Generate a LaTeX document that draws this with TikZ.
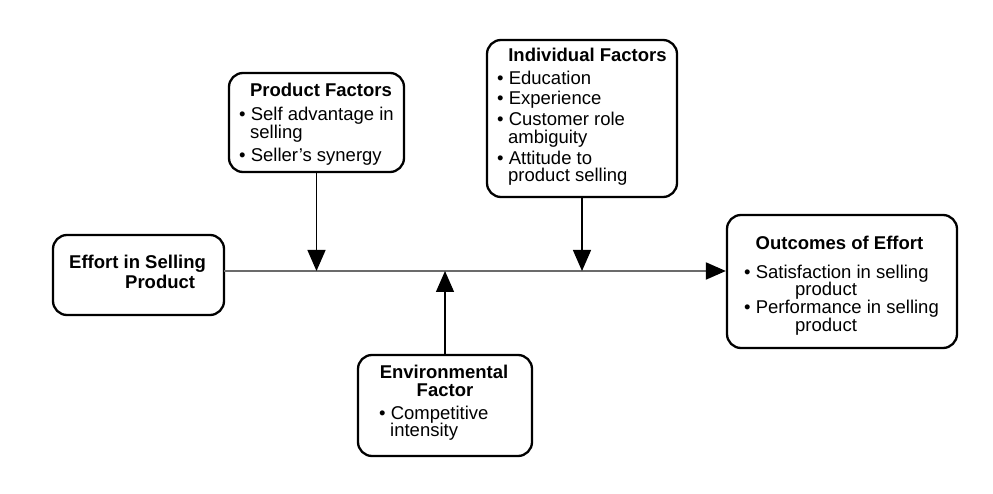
\documentclass[tikz,border=0pt]{standalone}
\usepackage{fontspec}
\setmainfont{Liberation Sans}
\usetikzlibrary{arrows.meta}
\begin{document}
\begin{tikzpicture}[x=1pt,y=-1pt,
  box/.style={draw, line width=2.3pt, rounded corners=14pt, inner sep=0pt, fill=white},
  txt/.style={font=\fontsize{18.5pt}{20pt}\selectfont, inner sep=0pt, anchor=base west},
  ttl/.style={font=\fontsize{18.5pt}{20pt}\selectfont\bfseries, inner sep=0pt, anchor=base},
  bttl/.style={font=\fontsize{18.5pt}{20pt}\selectfont\bfseries, inner sep=0pt, anchor=base west},
  mainline/.style={draw=black!58, line width=2pt, -{Triangle[length=20pt,width=17pt,color=black]}},
  conn/.style={draw=black, line width=1.3pt, -{Triangle[length=21pt,width=18pt]}}
]
\useasboundingbox (0,0) rectangle (993,494);
\fill[white] (0,0) rectangle (993,494);

% boxes
\node[box, minimum width=171pt, minimum height=80pt] (effort) at (138.5,275) {};
\node[box, minimum width=175pt, minimum height=99pt] (prod) at (316.5,122.5) {};
\node[box, minimum width=190pt, minimum height=157pt] (indiv) at (582,118.5) {};
\node[box, minimum width=230pt, minimum height=133pt] (outc) at (842,281.5) {};
\node[box, minimum width=174pt, minimum height=101pt] (env) at (445,405.5) {};

% connectors
\coordinate (ml) at (224,271);
\draw[mainline] (ml) -- (outc.west |- ml);
\draw[conn] (prod.south) -- (prod.south |- ml);
\draw[conn] (indiv.south) -- (indiv.south |- ml);
\draw[conn] (env.north) -- (env.north |- ml);

% Effort
\node[bttl] (e1) at (69,269) {Effort in Selling};
\node[bttl] (e2) at (125,288) {Product};

% Product factors
\node[ttl] (p0) at (321,96.5) {Product Factors};
\node[txt] (p1) at (239,120.5) {• Self advantage in};
\node[txt] (p2) at (250,139) {selling};
\node[txt] (p3) at (239,161.5) {• Seller’s synergy};

% Individual factors
\node[ttl] (i0) at (587.5,61.5) {Individual Factors};
\node[txt] (i1) at (497,84.5) {• Education};
\node[txt] (i2) at (497,104.5) {• Experience};
\node[txt] (i3) at (497,126) {• Customer role};
\node[txt] (i4) at (508,143.5) {ambiguity};
\node[txt] (i5) at (497,165) {• Attitude to};
\node[txt] (i6) at (508,182) {product selling};

% Outcomes
\node[ttl] (o0) at (839.5,250) {Outcomes of Effort};
\node[txt] (o1) at (744,278.5) {• Satisfaction in selling};
\node[txt] (o2) at (795,296) {product};
\node[txt] (o3) at (744,313.5) {• Performance in selling};
\node[txt] (o4) at (795,331) {product};

% Environmental
\node[ttl] (v0) at (444,378.5) {Environmental};
\node[ttl] (v1) at (445,396.5) {Factor};
\node[txt] (v2) at (379,419) {• Competitive};
\node[txt] (v3) at (390,436) {intensity};
\end{tikzpicture}
\end{document}
